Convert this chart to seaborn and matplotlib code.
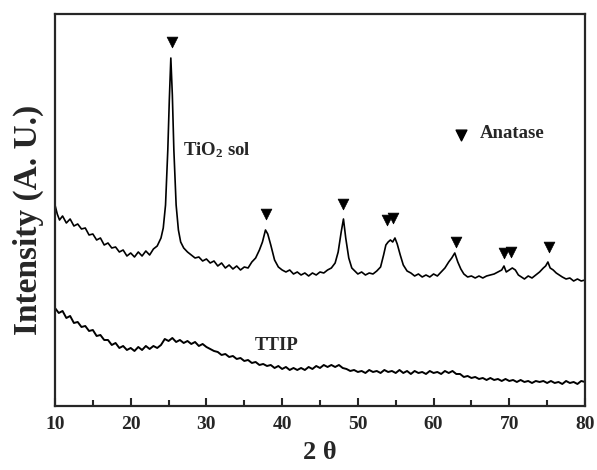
import numpy as np
import pandas as pd
import matplotlib
matplotlib.use("Agg")
import matplotlib.pyplot as plt
from matplotlib.ticker import MultipleLocator
import seaborn as sns

# TiO2 sol: 2θ と強度
sol_two_theta = [
    10.0, 10.3, 10.6, 11.0, 11.5, 12.0, 12.5, 13.0, 13.5, 14.0, 14.5, 15.0, 15.5, 16.0,
    16.5, 17.0, 17.5, 18.0, 18.5, 19.0, 19.5, 20.0, 20.5, 21.0, 21.5, 22.0, 22.5, 23.0,
    23.5, 24.0, 24.3, 24.6, 24.9, 25.1, 25.3, 25.5, 25.7, 26.0, 26.3, 26.6, 27.0, 27.5,
    28.0, 28.5, 29.0, 29.5, 30.0, 30.5, 31.0, 31.5, 32.0, 32.5, 33.0, 33.5, 34.0, 34.5,
    35.0, 35.5, 36.0, 36.5, 37.0, 37.4, 37.8, 38.1, 38.5, 39.0, 39.5, 40.0, 40.5, 41.0,
    41.5, 42.0, 42.5, 43.0, 43.5, 44.0, 44.5, 45.0, 45.5, 46.0, 46.5, 47.0, 47.4, 47.8,
    48.1, 48.4, 48.8, 49.2, 49.6, 50.0, 50.5, 51.0, 51.5, 52.0, 52.5, 53.0, 53.4, 53.7,
    54.0, 54.3, 54.6, 54.9, 55.2, 55.6, 56.0, 56.5, 57.0, 57.5, 58.0, 58.5, 59.0, 59.5,
    60.0, 60.5, 61.0, 61.5, 62.0, 62.4, 62.8, 63.2, 63.6, 64.0, 64.5, 65.0, 65.5, 66.0,
    66.5, 67.0, 67.5, 68.0, 68.5, 69.0, 69.3, 69.6, 70.0, 70.4, 70.8, 71.2, 71.6, 72.0,
    72.5, 73.0, 73.5, 74.0, 74.5, 74.8, 75.1, 75.4, 75.8, 76.2, 76.6, 77.0, 77.5, 78.0,
    78.5, 79.0, 79.5, 80.0,
]
sol_intensity = [
    201, 192, 186, 190, 183, 187, 180, 182, 177, 178, 171, 172, 166, 168,
    161, 163, 158, 159, 154, 156, 150, 153, 149, 154, 150, 155, 151, 157,
    160, 168, 178, 201, 256, 306, 348, 311, 256, 201, 176, 164, 158, 154,
    151, 148, 149, 145, 147, 143, 145, 140, 143, 138, 141, 137, 140, 136,
    139, 138, 144, 148, 156, 164, 176, 172, 161, 146, 139, 136, 134, 136,
    132, 134, 131, 133, 130, 133, 131, 134, 133, 136, 138, 143, 154, 174,
    187, 168, 148, 138, 135, 132, 134, 131, 133, 132, 135, 139, 151, 161,
    164, 166, 164, 168, 162, 151, 141, 135, 133, 130, 132, 129, 131, 129,
    132, 130, 134, 138, 144, 148, 153, 144, 137, 132, 129, 130, 128, 130,
    128, 130, 131, 132, 134, 136, 140, 134, 136, 138, 136, 131, 129, 127,
    130, 128, 131, 134, 138, 140, 144, 138, 136, 133, 131, 129, 127, 128,
    125, 127, 125, 126,
]

# TTIP: 0.5° 刻み
ttip_two_theta = np.arange(10.0, 80.01, 0.5)
ttip_intensity = [
    98, 93, 95, 88, 90, 83, 84, 79, 80, 75,
    76, 70, 71, 66, 66, 61, 63, 58, 60, 56,
    58, 55, 59, 56, 60, 57, 60, 58, 61, 67,
    65, 68, 64, 66, 63, 65, 62, 64, 60, 62,
    59, 57, 55, 54, 51, 52, 49, 50, 47, 48,
    45, 46, 43, 44, 41, 42, 40, 41, 38, 40,
    37, 39, 36, 38, 36, 38, 36, 39, 37, 40,
    38, 41, 39, 41, 39, 41, 38, 37, 35, 36,
    34, 35, 33, 36, 34, 35, 33, 36, 34, 35,
    33, 36, 33, 35, 32, 35, 33, 34, 32, 35,
    33, 34, 32, 35, 33, 35, 32, 32, 29, 30,
    28, 29, 27, 28, 26, 28, 26, 27, 25, 27,
    25, 26, 24, 26, 24, 25, 23, 25, 24, 25,
    23, 25, 23, 24, 22, 25, 23, 24, 22, 25,
    24,
]

# アナターゼのピーク位置 (▼)
anatase_pos = [25.4, 37.9, 48.1, 53.8, 54.6, 63.0, 69.3, 70.2, 75.3]
anatase_mark = [364, 192, 202, 186, 188, 164, 153, 154, 159]

sol_df = pd.DataFrame({"two_theta": sol_two_theta, "intensity": sol_intensity})
ttip_df = pd.DataFrame({"two_theta": ttip_two_theta, "intensity": ttip_intensity})
mark_df = pd.DataFrame({"two_theta": anatase_pos, "intensity": anatase_mark})

sns.set_style("ticks")
plt.rcParams["font.family"] = ["Liberation Serif", "DejaVu Serif"]
plt.rcParams["font.weight"] = "bold"
plt.rcParams["mathtext.fontset"] = "custom"
plt.rcParams["mathtext.rm"] = "Liberation Serif:bold"
plt.rcParams["mathtext.it"] = "Liberation Serif:bold"
plt.rcParams["mathtext.bf"] = "Liberation Serif:bold"

fig = plt.figure(figsize=(5.97, 4.70), dpi=100)
ax = fig.add_axes([0.0921, 0.1362, 0.8878, 0.834])

sns.lineplot(data=sol_df, x="two_theta", y="intensity", color="black", lw=1.2, ax=ax)
sns.lineplot(data=ttip_df, x="two_theta", y="intensity", color="black", lw=1.4, ax=ax)
sns.scatterplot(data=mark_df, x="two_theta", y="intensity", marker="v", s=60,
                color="black", edgecolor="black", linewidth=0.5, ax=ax)

# 凡例とラベル
ax.scatter([63.6], [271], marker="v", s=60, color="black")
ax.text(66.1, 272, "Anatase", fontsize=13.5, fontweight="bold", va="center", ha="left")
ax.text(26.9, 256, "TiO$_2$ sol", fontsize=13.5, fontweight="bold", va="center", ha="left")
ax.text(36.4, 60, "TTIP", fontsize=13.5, fontweight="bold", va="center", ha="left")

ax.set_xlim(10, 80)
ax.set_ylim(0, 392)
ax.xaxis.set_major_locator(MultipleLocator(10))
ax.xaxis.set_minor_locator(MultipleLocator(5))
ax.set_yticks([])
ax.tick_params(axis="x", which="major", direction="in", length=6, width=1.5,
               labelsize=14, pad=7, top=False)
ax.tick_params(axis="x", which="minor", direction="in", length=4, width=1.5, top=False)
for lab in ax.get_xticklabels():
    lab.set_fontweight("bold")
for sp in ax.spines.values():
    sp.set_linewidth(1.6)
    sp.set_visible(True)

ax.set_xlabel("2 θ", fontsize=19, fontweight="bold", labelpad=6)
ax.set_ylabel("Intensity (A. U.)", fontsize=24, fontweight="bold")
ax.yaxis.set_label_coords(-0.021, 0.474)

fig.savefig("out.png", dpi=100)
